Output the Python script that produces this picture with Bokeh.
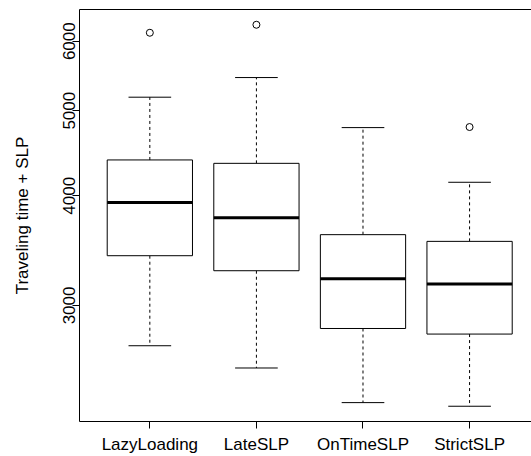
import numpy as np
from bokeh.plotting import figure
from bokeh.models import ColumnDataSource, Range1d, FixedTicker, LinearAxis
from bokeh.embed import file_html
from bokeh.resources import INLINE

# ---- data ----
categories = ["LazyLoading", "LateSLP", "OnTimeSLP", "StrictSLP"]
lower_whisker = [2699, 2546, 2325, 2303]
q1 = [3418, 3286, 2824, 2783]
median = [3929, 3777, 3218, 3173]
q3 = [4394, 4355, 3612, 3549]
upper_whisker = [5180, 5454, 4783, 4144]
outlier_group = ["LazyLoading", "LateSLP", "StrictSLP"]
outlier_value = [6134, 6264, 4790]
y_ticks = [3000, 4000, 5000, 6000]

FONT = "Liberation Sans"
FS = "17px"

xpos = [i + 1 for i in range(len(categories))]
box_w = 0.8
cap_w = 0.4

src = ColumnDataSource(dict(
    x=xpos,
    x0=[v - box_w / 2 for v in xpos],
    x1=[v + box_w / 2 for v in xpos],
    c0=[v - cap_w / 2 for v in xpos],
    c1=[v + cap_w / 2 for v in xpos],
    lw=lower_whisker, q1=q1, med=median, q3=q3, uw=upper_whisker,
))
out_src = ColumnDataSource(dict(
    x=[categories.index(g) + 1 for g in outlier_group],
    y=outlier_value,
))

lo = min(lower_whisker + outlier_value)
hi = max(upper_whisker + outlier_value)
pad = np.log(hi / lo) * 0.04
y_range = Range1d(lo * np.exp(-pad), hi * np.exp(pad))
x_range = Range1d(0.34, 4.581)

p = figure(width=531, height=456, x_range=x_range, y_range=y_range,
           y_axis_type="log", output_backend="svg", toolbar_location=None,
           min_border_left=79, min_border_right=0, min_border_top=9,
           min_border_bottom=34)
p.grid.visible = False
p.outline_line_color = None
p.background_fill_color = "white"
p.border_fill_color = "white"

# whiskers (dashed)
p.segment(x0="x", y0="q3", x1="x", y1="uw", source=src, line_color="black",
          line_width=1, line_dash="3 3")
p.segment(x0="x", y0="q1", x1="x", y1="lw", source=src, line_color="black",
          line_width=1, line_dash="3 3")
# caps
p.segment(x0="c0", y0="uw", x1="c1", y1="uw", source=src, line_color="black", line_width=1)
p.segment(x0="c0", y0="lw", x1="c1", y1="lw", source=src, line_color="black", line_width=1)
# boxes
p.quad(left="x0", right="x1", bottom="q1", top="q3", source=src,
       fill_color="white", line_color="black", line_width=1)
# medians
p.segment(x0="x0", y0="med", x1="x1", y1="med", source=src, line_color="black",
          line_width=3, line_cap="butt")
# outliers
p.scatter(x="x", y="y", source=out_src, marker="circle", size=7,
          fill_color=None, line_color="black", line_width=1)

# x axis
xa = p.xaxis[0]
xa.ticker = FixedTicker(ticks=xpos)
xa.major_label_overrides = {v: c for v, c in zip(xpos, categories)}
xa.major_tick_in = 0
xa.major_tick_out = 7
xa.minor_tick_line_color = None
xa.major_label_text_font = FONT
xa.major_label_text_font_size = FS
xa.major_label_text_color = "black"
xa.major_label_standoff = 6
xa.axis_line_color = "black"

# y axis
ya = p.yaxis[0]
ya.ticker = FixedTicker(ticks=y_ticks)
ya.major_label_overrides = {v: str(v) for v in y_ticks}
ya.major_label_orientation = "vertical"
ya.major_tick_in = 0
ya.major_tick_out = 7
ya.minor_tick_line_color = None
ya.major_label_text_font = FONT
ya.major_label_text_font_size = FS
ya.major_label_text_color = "black"
ya.major_label_standoff = -3
ya.axis_label = "Traveling time + SLP"
ya.axis_label_text_font = FONT
ya.axis_label_text_font_size = FS
ya.axis_label_text_font_style = "normal"
ya.axis_label_text_color = "black"
ya.axis_label_standoff = 29
ya.axis_line_color = "black"

# top border line
top = LinearAxis(ticker=FixedTicker(ticks=[]), major_tick_out=0, major_tick_in=0,
                 minor_tick_out=0, minor_tick_in=0, major_label_standoff=0,
                 major_label_text_font_size="0px", axis_line_color="black")
p.add_layout(top, "above")

open("out.html", "w").write(file_html(p, INLINE))
